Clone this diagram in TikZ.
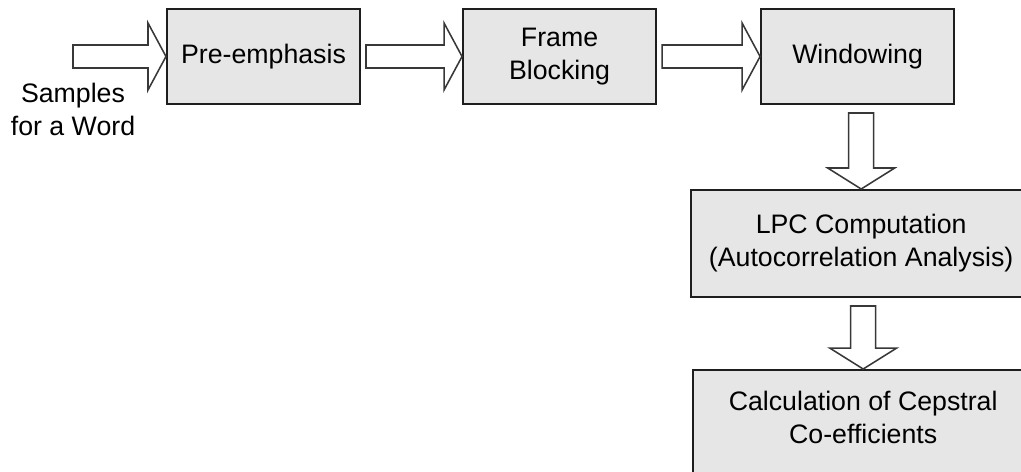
\documentclass[tikz,border=0pt]{standalone}
\usepackage{fontspec}
\setmainfont{Liberation Sans}
\usetikzlibrary{positioning,calc}
\definecolor{boxgray}{HTML}{E6E6E6}
\definecolor{edgegray}{HTML}{1E1E1E}
\definecolor{arrowgray}{HTML}{383838}

\begin{document}
\begin{tikzpicture}[x=0.025cm, y=0.025cm,
  every node/.style={align=center, font=\fontsize{19}{23.5}\selectfont},
  stage/.style={draw=edgegray, line width=1.4pt, fill=boxgray, minimum width=4.825cm, minimum height=2.375cm},
  widestage/.style={stage, minimum width=8.5cm, minimum height=2.675cm},
  blockarrow/.style={draw=arrowgray, line width=1.1pt, fill=white, line join=miter}
]
\useasboundingbox (0,0) rectangle (1021,-472);
\clip (0,0) rectangle (1021,-472);

\node[stage] (pre) at (263.5,-56.5) {Pre-emphasis};
\node[stage, right=2.525cm of pre] (frame) {Frame\\Blocking};
\node[stage, right=2.575cm of frame] (win) {Windowing};
\node[widestage, below=2.1cm of win, xshift=0.09cm] (lpc) {LPC Computation\\(Autocorrelation Analysis)};
\node[widestage, below=1.775cm of lpc, xshift=0.05cm, minimum height=2.7cm, text depth=10pt] (cep) {Calculation of Cepstral\\Co-efficients};

% input end of the chain
\coordinate (in) at (68,-56.5);
\node[below=0.66cm of in, xshift=0.125cm, inner sep=0pt] (samples) {Samples\\for a Word};

% hollow block arrows along the top row
\foreach \a/\b in {in/pre, pre.east/frame, frame.east/win}
  \draw[blockarrow] ($(\a)+(5,11.5)$) -- ($(\b.west)+(-18,11.5)$) -- ($(\b.west)+(-18,33.5)$)
    -- (\b.west) -- ($(\b.west)+(-18,-33.5)$) -- ($(\b.west)+(-18,-11.5)$) -- ($(\a)+(5,-11.5)$) -- cycle;

% and going down the right column
\foreach \a/\b in {win/lpc, lpc/cep}
  \draw[blockarrow] ($(\b.north |- \a.south)+(-12.5,-8)$) -- ($(\b.north)+(-12.5,21)$) -- ($(\b.north)+(-33.5,21)$)
    -- (\b.north) -- ($(\b.north)+(33.5,21)$) -- ($(\b.north)+(12.5,21)$) -- ($(\b.north |- \a.south)+(12.5,-8)$) -- cycle;
\end{tikzpicture}
\end{document}
